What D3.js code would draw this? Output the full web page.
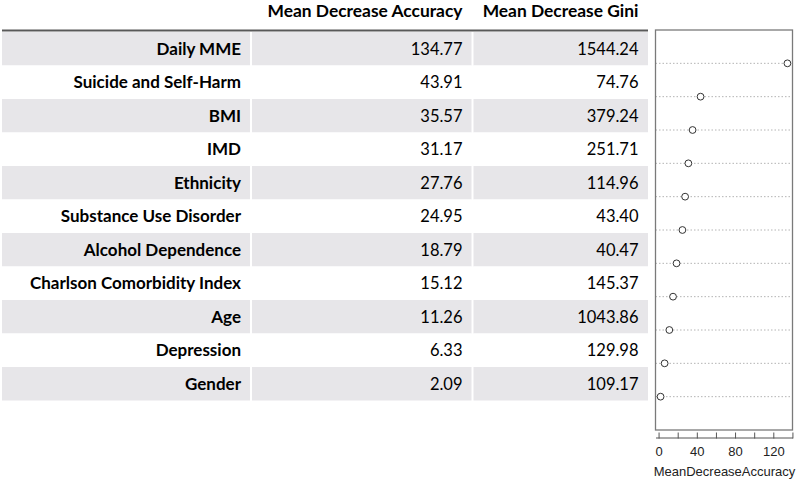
<!DOCTYPE html>
<html>
<head>
<meta charset="utf-8">
<script src="https://cdn.jsdelivr.net/npm/d3@7"></script>
<style>
  body { margin: 0; background: #fff; }
  svg { display: block; }
</style>
</head>
<body>
<svg id="chart" width="799" height="481"></svg>
<script>
const features = ["Daily MME", "Suicide and Self-Harm", "BMI", "IMD", "Ethnicity",
  "Substance Use Disorder", "Alcohol Dependence", "Charlson Comorbidity Index",
  "Age", "Depression", "Gender"];
const meanDecreaseAccuracy = [134.77, 43.91, 35.57, 31.17, 27.76, 24.95, 18.79, 15.12, 11.26, 6.33, 2.09];
const meanDecreaseGini = [1544.24, 74.76, 379.24, 251.71, 114.96, 43.40, 40.47, 145.37, 1043.86, 129.98, 109.17];
const columnHeaders = ["", "Mean Decrease Accuracy", "Mean Decrease Gini"];
const xTicks = [0, 20, 40, 60, 80, 100, 120, 140];
const xTickLabels = [0, 40, 80, 120];

const svg = d3.select("#chart");
const tableFont = "Lato, 'Open Sans', sans-serif";
const plotFont = "'Liberation Sans', Arial, sans-serif";

// ---- table ----
const cols = [
  {x0: 2, x1: 250, anchorX: 241},
  {x0: 252, x1: 471.5, anchorX: 462.5},
  {x0: 473.5, x1: 648, anchorX: 638.5}
];

const rowY = d3.scaleBand()
  .domain(features)
  .range([32, 400.5]);

const table = svg.append("g").attr("class", "table");

const rows = table.selectAll(".row")
  .data(features)
  .join("g")
  .attr("class", "row")
  .attr("transform", d => `translate(0,${rowY(d)})`);

rows.selectAll("rect")
  .data((d, i) => cols.map(c => ({c, i})))
  .join("rect")
  .attr("x", d => d.c.x0)
  .attr("width", d => d.c.x1 - d.c.x0)
  .attr("y", 0)
  .attr("height", rowY.bandwidth())
  .attr("fill", d => d.i % 2 === 0 ? "#e7e6e9" : "#fff");

rows.append("text")
  .attr("x", cols[0].anchorX)
  .attr("y", rowY.bandwidth() / 2)
  .attr("dy", "0.35em")
  .attr("text-anchor", "end")
  .style("font-family", tableFont)
  .style("font-weight", "bold")
  .style("font-size", "17px")
  .attr("fill", "#000")
  .text(d => d);

rows.append("text")
  .attr("x", cols[1].anchorX)
  .attr("y", rowY.bandwidth() / 2)
  .attr("dy", "0.35em")
  .attr("text-anchor", "end")
  .style("font-family", tableFont)
  .style("font-size", "16.5px")
  .attr("fill", "#000")
  .text((d, i) => meanDecreaseAccuracy[i].toFixed(2));

rows.append("text")
  .attr("x", cols[2].anchorX)
  .attr("y", rowY.bandwidth() / 2)
  .attr("dy", "0.35em")
  .attr("text-anchor", "end")
  .style("font-family", tableFont)
  .style("font-size", "16.5px")
  .attr("fill", "#000")
  .text((d, i) => meanDecreaseGini[i].toFixed(2));

// header
table.selectAll(".hdr")
  .data(columnHeaders)
  .join("text")
  .attr("class", "hdr")
  .attr("x", (d, i) => cols[i].anchorX)
  .attr("y", 10.5)
  .attr("dy", "0.35em")
  .attr("text-anchor", "end")
  .style("font-family", tableFont)
  .style("font-weight", "bold")
  .style("font-size", "17.4px")
  .attr("fill", "#000")
  .text(d => d);

table.append("line")
  .attr("x1", 2).attr("x2", 648)
  .attr("y1", 30.5).attr("y2", 30.5)
  .attr("stroke", "#595959")
  .attr("stroke-width", 2);

// ---- dot chart ----
const box = {left: 655.5, right: 792.5, top: 30, bottom: 430};
const ext = d3.extent(meanDecreaseAccuracy);
const pad = (ext[1] - ext[0]) * 0.04;

const x = d3.scaleLinear()
  .domain([ext[0] - pad, ext[1] + pad])
  .range([box.left, box.right]);

const y = d3.scaleLinear()
  .domain([0, features.length + 1])
  .range([box.bottom, box.top]);

const plot = svg.append("g").attr("class", "plot");

plot.selectAll(".guide")
  .data(features)
  .join("line")
  .attr("class", "guide")
  .attr("x1", box.left).attr("x2", box.right)
  .attr("y1", (d, i) => y(features.length - i))
  .attr("y2", (d, i) => y(features.length - i))
  .attr("stroke", "#b4b4b4")
  .attr("stroke-width", 1)
  .attr("stroke-dasharray", "1.5,2");

plot.selectAll(".pt")
  .data(meanDecreaseAccuracy)
  .join("circle")
  .attr("class", "pt")
  .attr("cx", d => x(d))
  .attr("cy", (d, i) => y(features.length - i))
  .attr("r", 3.4)
  .attr("fill", "#fff")
  .attr("stroke", "#333")
  .attr("stroke-width", 1);

plot.append("rect")
  .attr("x", box.left).attr("y", box.top)
  .attr("width", box.right - box.left)
  .attr("height", box.bottom - box.top)
  .attr("fill", "none")
  .attr("stroke", "#7a7a7a")
  .attr("stroke-width", 1.3);

const xAxis = plot.append("g")
  .attr("transform", "translate(0,437.5)")
  .call(d3.axisBottom(x)
    .tickValues(xTicks)
    .tickSizeInner(-5)
    .tickSizeOuter(0)
    .tickFormat(d => xTickLabels.includes(d) ? d : ""));

xAxis.select(".domain").attr("stroke", "#555");
xAxis.selectAll(".tick line").attr("stroke", "#555").attr("y2", -5).attr("y1", 1);
xAxis.selectAll(".tick text")
  .attr("y", 9)
  .style("font-family", plotFont)
  .style("font-size", "13px")
  .attr("fill", "#222");

plot.append("text")
  .attr("x", 724.5)
  .attr("y", 476)
  .attr("text-anchor", "middle")
  .style("font-family", plotFont)
  .style("font-size", "13px")
  .attr("fill", "#222")
  .text("MeanDecreaseAccuracy");
</script>
</body>
</html>
